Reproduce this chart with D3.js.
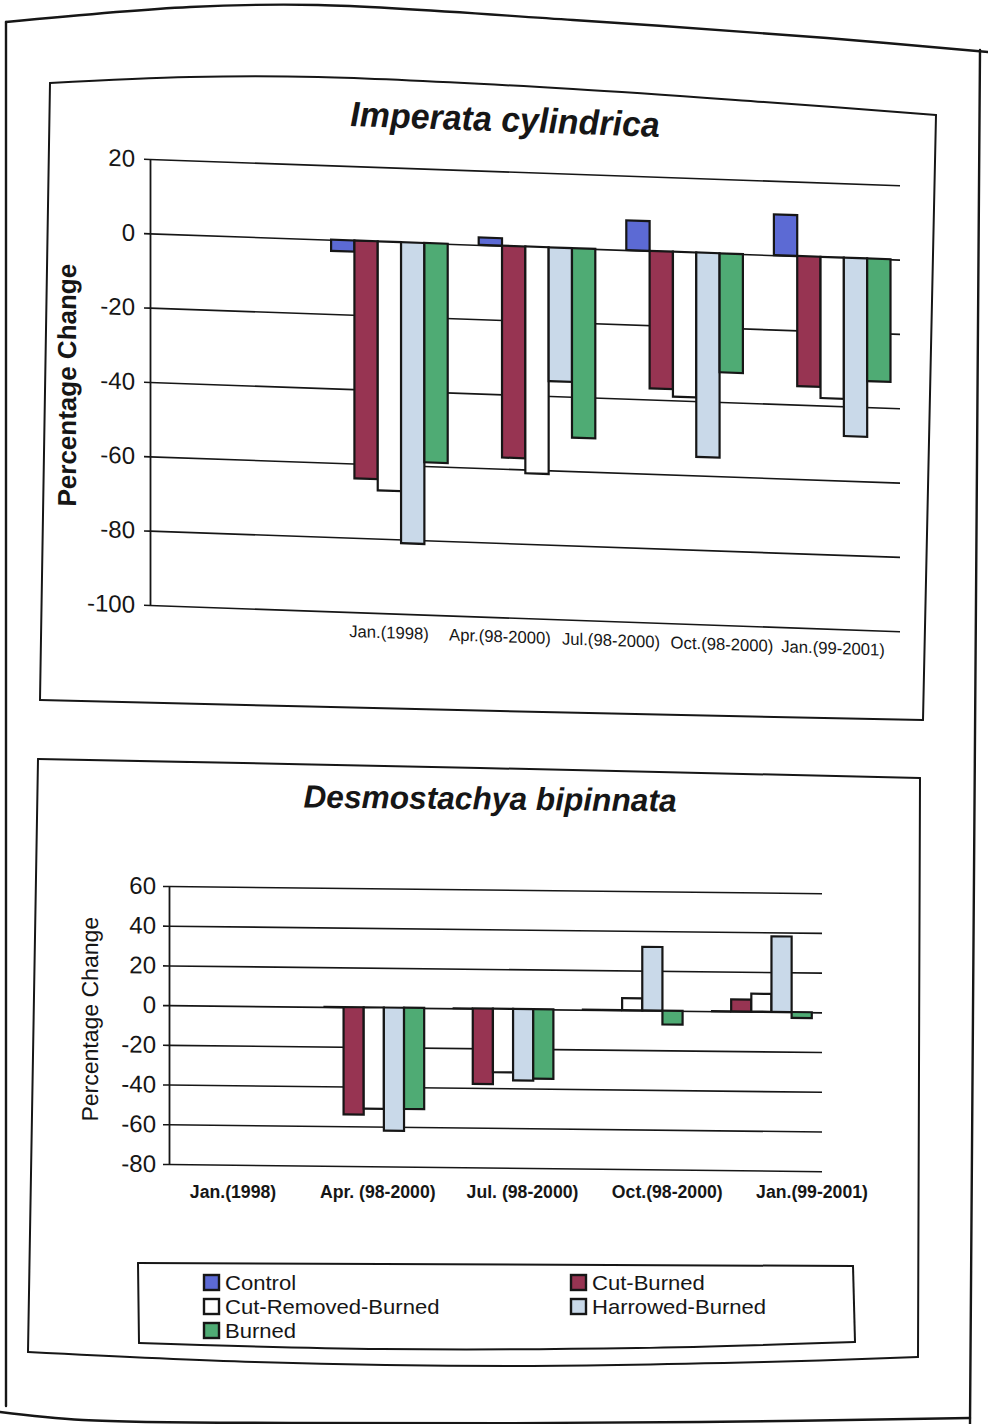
<!DOCTYPE html>
<html>
<head>
<meta charset="utf-8">
<script src="https://cdn.jsdelivr.net/npm/d3@7"></script>
<style>
  body { margin: 0; background: #fff; }
  svg { display: block; }
</style>
</head>
<body>
<script>
'use strict';

// categories and series shared by both charts
const categories = ["Jan.(1998)", "Apr.(98-2000)", "Jul.(98-2000)", "Oct.(98-2000)", "Jan.(99-2001)"];
const series = ["Control", "Cut-Burned", "Cut-Removed-Burned", "Harrowed-Burned", "Burned"];
const seriesColors = ["#5c6ad4", "#973452", "#ffffff", "#c9d9e9", "#4fab74"];

// Imperata cylindrica, percentage change (null = no bar)
const impControl          = [null,  -3,   2,   8,  11];
const impCutBurned        = [null, -64, -57, -37, -35];
const impCutRemovedBurned = [null, -67, -61, -39, -38];
const impHarrowedBurned   = [null, -81, -36, -55, -48];
const impBurned           = [null, -59, -51, -32, -33];
const impYTicks = [20, 0, -20, -40, -60, -80, -100];
const impXLabels = ["Jan.(1998)", "Apr.(98-2000)", "Jul.(98-2000)", "Oct.(98-2000)", "Jan.(99-2001)"];

// Desmostachya bipinnata, percentage change
const desControl          = [null,   0,   0,   0,   0];
const desCutBurned        = [null, -54, -38,   0,   6];
const desCutRemovedBurned = [null, -51, -32,   6,   9];
const desHarrowedBurned   = [null, -62, -36,  32,  38];
const desBurned           = [null, -51, -35,  -7,  -3];
const desYTicks = [60, 40, 20, 0, -20, -40, -60, -80];
const desXLabels = ["Jan.(1998)", "Apr. (98-2000)", "Jul. (98-2000)", "Oct.(98-2000)", "Jan.(99-2001)"];

const FONT = "'Liberation Sans', Arial, Helvetica, sans-serif";
const INK = "#161616";

let svg = d3.select("body").append("svg")
  .attr("width", 988)
  .attr("height", 1424)
  .attr("font-family", FONT);

svg.append("rect").attr("width", 988).attr("height", 1424).attr("fill", "#fff");

// squeeze text horizontally (the scan uses a narrow face)
function squeeze(sel, f) {
  sel.each(function () {
    let w = this.getComputedTextLength();
    d3.select(this).attr("textLength", w * f).attr("lengthAdjust", "spacingAndGlyphs");
  });
}

// page and box outlines of the photographed sheet, one edge at a time
let curve = d3.line().curve(d3.curveCatmullRom);
function outline(edges, width) {
  edges.forEach((pts) => {
    svg.append("path")
      .attr("d", curve(pts))
      .attr("fill", "none")
      .attr("stroke", INK)
      .attr("stroke-width", width)
      .attr("stroke-linecap", "round");
  });
}

// sheet
outline([
  [[6, 22], [190, 7], [318, 5], [573, 20], [827, 38], [988, 52]],
  [[6, 22], [6, 1406]],
  [[980, 50], [970, 1424]],
  [[0, 1412], [83, 1420], [300, 1423], [700, 1422], [970, 1418]]
], 2.4);

// box round the first chart
outline([
  [[50, 83], [190, 77], [318, 77], [573, 89], [764, 102], [936, 115]],
  [[936, 115], [923, 720]],
  [[923, 720], [500, 711], [40, 700]],
  [[40, 700], [50, 83]]
], 2);

// box round the second chart
outline([
  [[38, 759], [480, 768], [920, 778]],
  [[920, 778], [918, 1357]],
  [[918, 1357], [764, 1362], [509, 1366], [255, 1362], [28, 1352]],
  [[28, 1352], [38, 759]]
], 2);

function drawChart(cfg) {
  let k = cfg.slope;
  let g = svg.append("g")
    .attr("transform", `translate(0,${-k * cfg.axisX}) skewY(${Math.atan(k) * 180 / Math.PI})`);

  let y = d3.scaleLinear().domain(cfg.yDomain).range([cfg.yBottom, cfg.yTop]);
  let x = d3.scaleBand().domain(categories).range(cfg.xRange)
    .paddingInner(cfg.padInner).paddingOuter(cfg.padOuter);
  let xs = d3.scaleBand().domain(series).range([0, x.bandwidth()]);

  // horizontal gridlines
  g.append("g")
    .attr("transform", `translate(${cfg.axisX},0)`)
    .call(d3.axisLeft(y).tickValues(cfg.yTicks).tickSize(-(cfg.gridRight - cfg.axisX)).tickFormat(""))
    .call(a => a.select(".domain").remove())
    .selectAll("line").attr("stroke", INK).attr("stroke-width", 1.6);

  // value axis with ticks and labels
  let ax = g.append("g")
    .attr("transform", `translate(${cfg.axisX},0)`)
    .call(d3.axisLeft(y).tickValues(cfg.yTicks).tickSize(6).tickSizeOuter(0)
      .tickPadding(cfg.tickPad).tickFormat(d => String(d)));
  ax.select(".domain").attr("stroke", INK).attr("stroke-width", 1.8);
  ax.selectAll(".tick line").attr("stroke", INK).attr("stroke-width", 1.6);
  ax.selectAll("text")
    .attr("font-family", FONT)
    .attr("font-size", cfg.tickFont)
    .attr("fill", INK);

  // bars, one row per series/category
  let rows = [];
  cfg.values.forEach((vals, si) => {
    vals.forEach((v, ci) => {
      if (v !== null) rows.push({ s: series[si], c: categories[ci], v: v, color: seriesColors[si] });
    });
  });

  g.append("g").selectAll("path")
    .data(rows)
    .join("path")
    .attr("d", d => {
      let x0 = x(d.c) + xs(d.s);
      let w = xs.bandwidth();
      return `M${x0},${y(0)}H${x0 + w}V${y(d.v)}H${x0}Z`;
    })
    .attr("fill", d => d.color)
    .attr("stroke", INK)
    .attr("stroke-width", 2.2);

  // title
  g.append("text")
    .attr("x", cfg.titleX)
    .attr("y", cfg.titleY)
    .attr("text-anchor", "middle")
    .attr("font-size", cfg.titleFont)
    .attr("font-weight", "bold")
    .attr("font-style", "italic")
    .attr("fill", INK)
    .text(cfg.title)
    .call(squeeze, cfg.titleSqueeze);

  // y axis title
  g.append("text")
    .attr("transform", `translate(${cfg.yLabelX},${cfg.yLabelY}) rotate(-90)`)
    .attr("text-anchor", "middle")
    .attr("font-size", cfg.yLabelFont)
    .attr("font-weight", cfg.yLabelWeight)
    .attr("fill", INK)
    .text("Percentage Change");

  // category labels (they sit on their own spacing in the original)
  let lx = d3.scalePoint().domain(cfg.xLabels).range(cfg.labelRange);
  let labelLayer = cfg.labelsSkewed ? g : svg;
  labelLayer.append("g").selectAll("text")
    .data(cfg.xLabels)
    .join("text")
    .attr("x", d => lx(d))
    .attr("y", cfg.labelY)
    .attr("text-anchor", "middle")
    .attr("font-size", cfg.labelFont)
    .attr("font-weight", cfg.labelWeight)
    .attr("fill", INK)
    .text(d => d)
    .call(squeeze, cfg.labelSqueeze);
}

drawChart({
  title: "Imperata cylindrica",
  values: [impControl, impCutBurned, impCutRemovedBurned, impHarrowedBurned, impBurned],
  yTicks: impYTicks,
  xLabels: impXLabels,
  slope: 0.035,
  axisX: 150, gridRight: 900,
  yDomain: [-100, 20], yTop: 159, yBottom: 605,
  xRange: [168, 906], padInner: 0.21, padOuter: 0.105,
  tickPad: 9, tickFont: 24,
  titleX: 505, titleY: 119, titleFont: 35, titleSqueeze: 0.97,
  yLabelX: 76, yLabelY: 388, yLabelFont: 26, yLabelWeight: "bold",
  labelRange: [389, 833], labelY: 630, labelFont: 17, labelWeight: "normal", labelSqueeze: 0.98,
  labelsSkewed: true
});

drawChart({
  title: "Desmostachya bipinnata",
  values: [desControl, desCutBurned, desCutRemovedBurned, desHarrowedBurned, desBurned],
  yTicks: desYTicks,
  xLabels: desXLabels,
  slope: 0.011,
  axisX: 169, gridRight: 822,
  yDomain: [-80, 60], yTop: 886, yBottom: 1164,
  xRange: [180, 826], padInner: 0.22, padOuter: 0.11,
  tickPad: 7, tickFont: 24,
  titleX: 490, titleY: 806, titleFont: 32, titleSqueeze: 0.99,
  yLabelX: 98, yLabelY: 1020, yLabelFont: 23, yLabelWeight: "normal",
  labelRange: [233, 812], labelY: 1198, labelFont: 18, labelWeight: "bold", labelSqueeze: 0.98,
  labelsSkewed: false
});

// legend
let legend = svg.append("g");
outline([
  [[138, 1263], [853, 1266]],
  [[853, 1266], [855, 1342]],
  [[855, 1342], [637, 1348], [382, 1349], [139, 1343]],
  [[139, 1343], [138, 1263]]
], 2);

let legendCol = d3.scalePoint().domain([0, 1]).range([204, 571]);
let legendRow = d3.scaleLinear().domain([0, 1]).range([1275, 1299]);

let items = legend.selectAll("g.item")
  .data(series)
  .join("g")
  .attr("class", "item")
  .attr("transform", (d, i) => `translate(${legendCol(i % 2)},${legendRow(Math.floor(i / 2))})`);

items.append("rect")
  .attr("width", 15)
  .attr("height", 15)
  .attr("fill", (d, i) => seriesColors[i])
  .attr("stroke", INK)
  .attr("stroke-width", 2.4);

items.append("text")
  .attr("x", 21)
  .attr("y", 15)
  .attr("font-size", 21)
  .attr("fill", INK)
  .text(d => d)
  .call(squeeze, 1.05);
</script>
</body>
</html>
